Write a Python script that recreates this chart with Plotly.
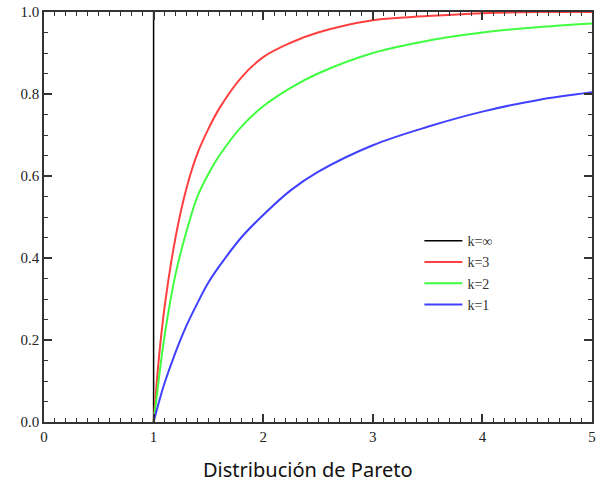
import plotly.graph_objects as go

# Values
x_vals = [1.0, 1.05, 1.1, 1.2, 1.3, 1.4, 1.5, 1.6, 1.8, 2.0, 2.25, 2.5, 3.0, 3.5, 4.0, 4.5, 5.0]
y_k1 = [0.0, 0.05, 0.095, 0.17, 0.235, 0.29, 0.34, 0.38, 0.45, 0.505, 0.565, 0.61, 0.675, 0.72, 0.757, 0.785, 0.804]
y_k2 = [0.0, 0.11, 0.21, 0.36, 0.465, 0.55, 0.605, 0.65, 0.72, 0.77, 0.815, 0.85, 0.9, 0.93, 0.95, 0.963, 0.972]
y_k3 = [0.0, 0.16, 0.28, 0.45, 0.57, 0.655, 0.715, 0.765, 0.84, 0.89, 0.925, 0.95, 0.98, 0.99, 0.997, 1.0, 1.0]
inf_x = [1.0, 1.0]
inf_y = [0.0, 1.0]

labels = ["k=∞", "k=3", "k=2", "k=1"]
colors = ["#000000", "#ff4040", "#40ff40", "#4040ff"]

SERIF = "Liberation Serif, Times New Roman, DejaVu Serif, serif"

fig = go.Figure()
fig.add_trace(go.Scatter(x=inf_x, y=inf_y, mode="lines", name=labels[0],
                         line=dict(color=colors[0], width=1.5)))
for ys, lab, col in [(y_k3, labels[1], colors[1]), (y_k2, labels[2], colors[2]), (y_k1, labels[3], colors[3])]:
    fig.add_trace(go.Scatter(x=x_vals, y=ys, mode="lines", name=lab,
                             line=dict(color=col, width=2, shape="spline", smoothing=1.0)))

axis_common = dict(
    showgrid=False, zeroline=False, showline=True, linecolor="#333333", linewidth=1.5,
    mirror="allticks", ticks="inside", ticklen=8, tickwidth=1.5, tickcolor="#333333",
    tickfont=dict(family=SERIF, size=15, color="#222222"), automargin=False,
    ticklabeloverflow="allow",
)

fig.update_layout(
    width=599, height=484,
    margin=dict(l=44, r=7, t=12, b=62, autoexpand=False),
    paper_bgcolor="white", plot_bgcolor="white",
    showlegend=True,
    legend=dict(x=0.685, y=0.48, xanchor="left", yanchor="top", itemwidth=38,
                bgcolor="rgba(0,0,0,0)", font=dict(family=SERIF, size=14, color="#333333"),
                tracegroupgap=0),
    xaxis=dict(range=[0, 5], tickvals=[0, 1, 2, 3, 4, 5], ticktext=["0", "1", "2", "3", "4", "5"],
               minor=dict(dtick=0.1, ticks="inside", ticklen=4, tickwidth=1.2, tickcolor="#333333"),
               **axis_common),
    yaxis=dict(range=[0, 1], tickvals=[0, 0.2, 0.4, 0.6, 0.8, 1.0],
               ticktext=["0.0", "0.2", "0.4", "0.6", "0.8", "1.0"],
               minor=dict(dtick=0.05, ticks="inside", ticklen=4, tickwidth=1.2, tickcolor="#333333"),
               **axis_common),
    annotations=[dict(text="Distribución de Pareto", xref="paper", yref="paper", x=0.482, y=0,
                      yshift=-47, yanchor="middle", showarrow=False,
                      font=dict(family="Noto Sans", size=20, color="#111111"))],
)

fig.write_html("out.html", config={"displayModeBar": False},
               post_script="document.body.style.margin='0';")
